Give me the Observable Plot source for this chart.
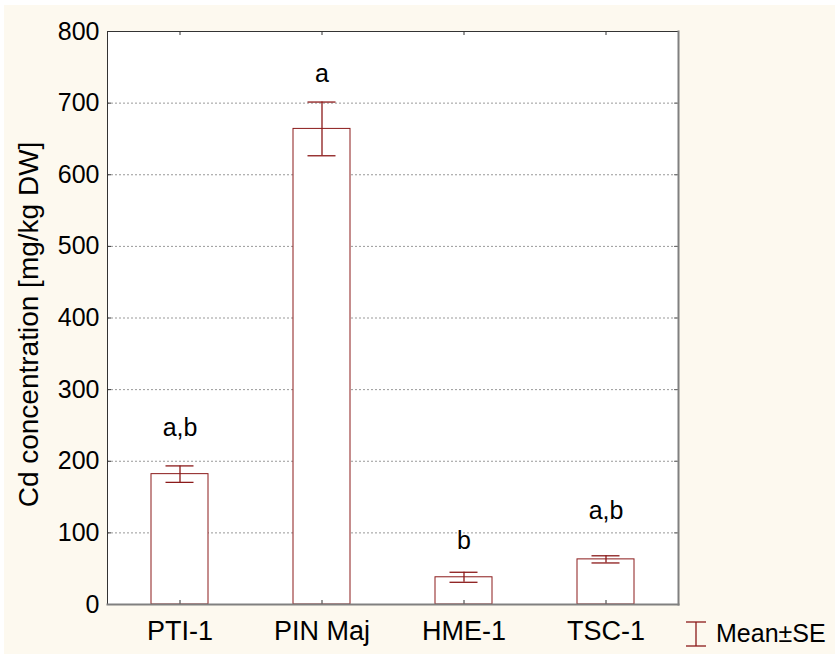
<!DOCTYPE html>
<html>
<head>
<meta charset="utf-8">
<script src="https://cdn.jsdelivr.net/npm/d3@7"></script>
<script src="https://cdn.jsdelivr.net/npm/@observablehq/plot@0.6"></script>
<style>
  html, body { margin: 0; padding: 0; background: #ffffff; }
  #bg { position: absolute; left: 4px; top: 5px; width: 831px; height: 649px; background: #fdf9ef; }
  #chart { position: absolute; left: 0; top: 0; }
  #legend { position: absolute; left: 685px; top: 619px; display: flex; align-items: center;
            font-family: "Liberation Sans", Arial, sans-serif; font-size: 25px; color: #000; }
  #legend svg { margin-right: 9px; }
</style>
</head>
<body>
<div id="bg"></div>
<div id="chart"></div>
<div id="legend"></div>
<script>
const categories = ["PTI-1", "PIN Maj", "HME-1", "TSC-1"];
const means = [182, 664, 38, 63];
const se = [11.5, 37.5, 7, 5];
const letters = ["a,b", "a", "b", "a,b"];
const letterY = [246, 740, 89, 130];
const yTicks = [0, 100, 200, 300, 400, 500, 600, 700, 800];
const gridTicks = [100, 200, 300, 400, 500, 600, 700];
const yTitle = "Cd concentration [mg/kg DW]";
const legendLabel = "Mean±SE";

const data = categories.map((c, i) => ({
  cat: c, mean: means[i], lo: means[i] - se[i], hi: means[i] + se[i],
  letter: letters[i], ly: letterY[i]
}));

const W = 835, H = 654;
const mL = 107, mR = 157, mT = 31, mB = 50;
const fw = W - mL - mR, fh = H - mT - mB;
const red = "#8b1a1a";
const font = "Liberation Sans, Arial, sans-serif";

const chart = Plot.plot({
  width: W, height: H,
  marginLeft: mL, marginRight: mR, marginTop: mT, marginBottom: mB,
  style: { background: "transparent", fontFamily: font, color: "#000" },
  x: { domain: categories, paddingInner: 0.6, paddingOuter: 0.3, align: 0.5 },
  y: { domain: [0, 800] },
  marks: [
    Plot.frame({ fill: "white", stroke: null }),
    Plot.gridY(gridTicks, { stroke: "#999", strokeOpacity: 1, strokeDasharray: "2,2" }),
    Plot.barY(data, { x: "cat", y: "mean", fill: "white", stroke: red, strokeWidth: 1 }),
    Plot.ruleX(data, { x: "cat", y1: "lo", y2: "hi", stroke: red, strokeWidth: 1.3 }),
    Plot.tickY(data, { x: "cat", y: "hi", stroke: red, strokeWidth: 1.3, inset: 14.5 }),
    Plot.tickY(data, { x: "cat", y: "lo", stroke: red, strokeWidth: 1.3, inset: 14.5 }),
    Plot.text(data, { x: "cat", y: "ly", text: "letter", fontSize: 25, fill: "#000", lineAnchor: "middle" }),
    // inside ticks
    Plot.tickY(yTicks, { y: d => d, insetRight: fw - 4, stroke: "#333" }),
    Plot.tickY(yTicks, { y: d => d, insetLeft: fw - 4, stroke: "#666" }),
    Plot.tickX(categories, { x: d => d, insetTop: fh - 4, stroke: "#333" }),
    Plot.tickX(categories, { x: d => d, insetBottom: fh - 4, stroke: "#333" }),
    // frame: dark top/left, gray bottom/right
    Plot.frame({ stroke: "#333", strokeWidth: 1 }),
    Plot.frame({ anchor: "bottom", stroke: "#808080", strokeWidth: 2 }),
    Plot.frame({ anchor: "right", stroke: "#808080", strokeWidth: 2 }),
    Plot.axisY(yTicks, { tickSize: 0, tickPadding: 8, fontSize: 25, label: null, fill: "#000" }),
    Plot.axisX({ tickSize: 0, tickPadding: 16, fontSize: 27, label: null, fill: "#000" }),
    Plot.text([yTitle], { frameAnchor: "left", dx: -78, dy: 6.5, rotate: -90, fontSize: 28,
                          fill: "#000", lineAnchor: "middle", textAnchor: "middle" })
  ]
});
document.getElementById("chart").appendChild(chart);

const legend = document.getElementById("legend");
legend.innerHTML =
  `<svg width="22" height="26" viewBox="0 0 22 26">
     <line x1="11" y1="1" x2="11" y2="25" stroke="${red}" stroke-width="1.3"/>
     <line x1="1" y1="1" x2="21" y2="1" stroke="${red}" stroke-width="1.3"/>
     <line x1="1" y1="25" x2="21" y2="25" stroke="${red}" stroke-width="1.3"/>
   </svg><span>${legendLabel}</span>`;
</script>
</body>
</html>
